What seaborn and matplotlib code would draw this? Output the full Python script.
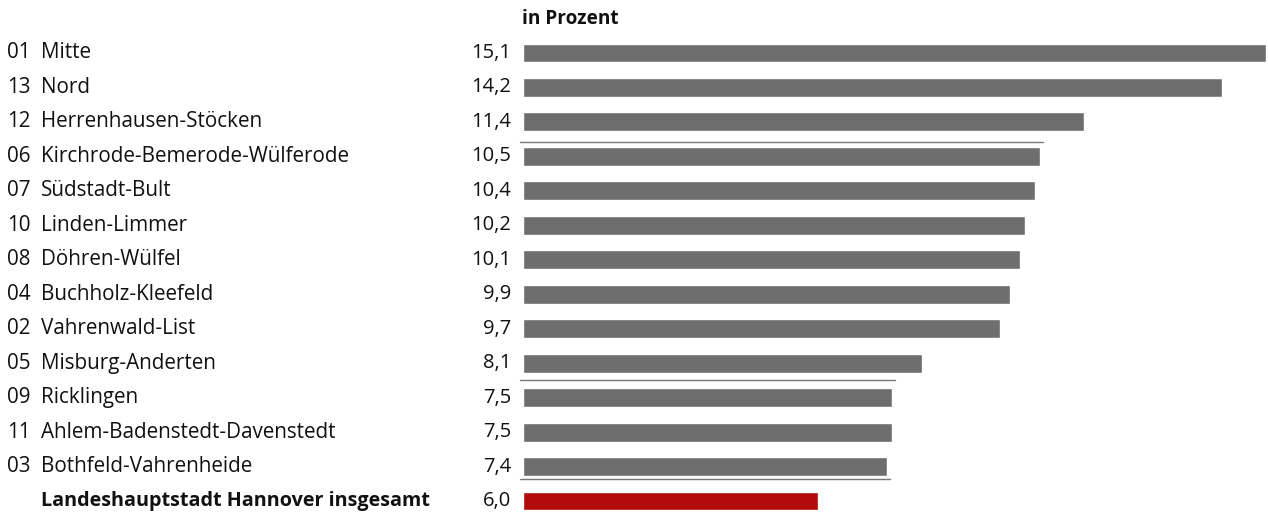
import matplotlib
matplotlib.use("Agg")
import matplotlib.pyplot as plt
import matplotlib.transforms as mtransforms
import seaborn as sns
import pandas as pd

codes = ["01", "13", "12", "06", "07", "10", "08", "04", "02", "05", "09", "11", "03", ""]
names = ["Mitte", "Nord", "Herrenhausen-Stöcken", "Kirchrode-Bemerode-Wülferode",
         "Südstadt-Bult", "Linden-Limmer", "Döhren-Wülfel", "Buchholz-Kleefeld",
         "Vahrenwald-List", "Misburg-Anderten", "Ricklingen", "Ahlem-Badenstedt-Davenstedt",
         "Bothfeld-Vahrenheide", "Landeshauptstadt Hannover insgesamt"]
values = [15.1, 14.2, 11.4, 10.5, 10.4, 10.2, 10.1, 9.9, 9.7, 8.1, 7.5, 7.5, 7.4, 6.0]
header = "in Prozent"

GREY = "#6e6e6e"
RED = "#b30b0b"
colors = [GREY] * (len(values) - 1) + [RED]

df = pd.DataFrame({"name": names, "value": values})

sns.set_theme(style="white")
plt.rcParams["font.family"] = ["Open Sans", "DejaVu Sans"]

W, H = 1268, 515
fig = plt.figure(figsize=(W / 100, H / 100), dpi=100)
ax = fig.add_axes([523 / W, 0, (1266 - 523) / W, 480 / H])

sns.barplot(data=df, x="value", y="name", hue="name", palette=colors, legend=False,
            width=0.55, ax=ax, saturation=1, orient="h")

ax.set_xlim(0, 15.1)
ax.set_ylim(13.406, -0.522)
ax.set_axis_off()

trans = mtransforms.blended_transform_factory(fig.transFigure, ax.transData)
fs = 14.9
fs_bold = 14.2
fs_val = 14.5
tc = "#111111"
for i, (c, n, v) in enumerate(zip(codes, names, values)):
    if c:
        ax.text(7 / W, i, c, transform=trans, ha="left", va="center", fontsize=fs, color=tc)
        ax.text(41 / W, i, n, transform=trans, ha="left", va="center", fontsize=fs, color=tc)
    else:
        ax.text(41 / W, i, n, transform=trans, ha="left", va="center", fontsize=fs_bold,
                fontweight="bold", color=tc)
    ax.text(511 / W, i, f"{v:.1f}".replace(".", ","), transform=trans, ha="right",
            va="center", fontsize=fs_val, color=tc)

fig.text(522 / W, 1 - 19 / H, header, ha="left", va="center", fontsize=13.7,
         fontweight="bold", color=tc)

# thin separator lines as in the reference
seps = [(2.58, values[3]), (9.5, values[10]), (12.36, values[12])]
for ypos, xend in seps:
    ax.plot([-0.06, xend + 0.06], [ypos, ypos], color="#777777", lw=1.0, clip_on=False)

fig.savefig("out.png", dpi=100)
